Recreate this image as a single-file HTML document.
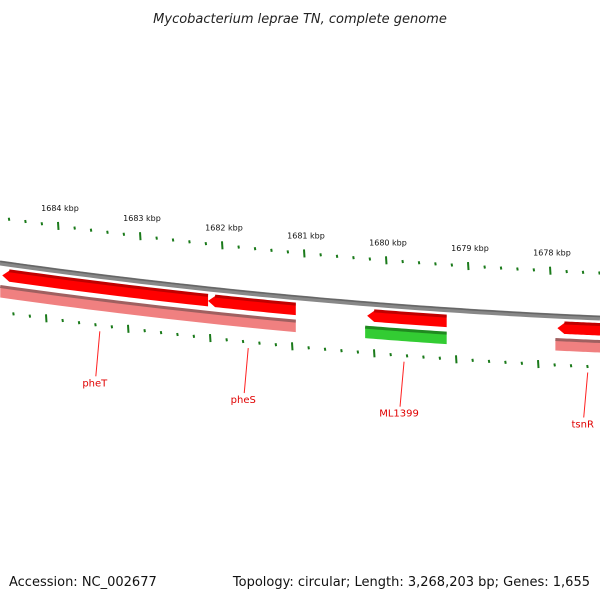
<!DOCTYPE html>
<html><head><meta charset="utf-8"><style>
body{margin:0;background:#fff;width:600px;height:600px;overflow:hidden;font-family:"Liberation Sans","DejaVu Sans",sans-serif}
svg text{font-family:"DejaVu Sans","Liberation Sans",sans-serif}
</style></head><body>
<svg id="map" width="600" height="600" xmlns="http://www.w3.org/2000/svg">
<text x="300" y="23" text-anchor="middle" font-size="13" font-style="italic" fill="#222">Mycobacterium leprae TN, complete genome</text>
<text x="9" y="586" font-size="13" fill="#111">Accession: NC_002677</text>
<text x="590" y="586" font-size="13" fill="#111" text-anchor="end">Topology: circular; Length: 3,268,203 bp; Genes: 1,655</text>
<g id="g"></g>
</svg>
<script>
const tickLabels=[1684,1683,1682,1681,1680,1679,1678];
const geneNames=["pheT","pheS","ML1399","tsnR"];
const geneStarts=[1684.68,1682.17,1680.23,1677.91];
const geneEnds=[1682.17,1681.10,1679.26,1677.20];
const labelKbp=[1683.49,1681.68,1679.78,1677.54];
const NS="http://www.w3.org/2000/svg";
const g=document.getElementById('g');
function kx(k){return 58+(1684-k)*82;}
function by(x){return 263+0.1417*x-8.33e-5*x*x;}
function mk(t,a){const e=document.createElementNS(NS,t);for(const k in a)e.setAttribute(k,a[k]);g.appendChild(e);return e;}
function band(x1,x2,off,th,fill,edge,arrow){
  const pts=[],pb=[];
  const s=x1+(arrow?7:0);
  for(let i=0;i<=20;i++){const x=s+(x2-s)*i/20;pts.push([x,by(x)+off-th/2]);pb.unshift([x,by(x)+off+th/2]);}
  let all=pts.concat(pb);
  if(arrow){const y=by(x1)+off;all.push([x1,y]);}
  const p=mk('polygon',{points:all.map(p=>p.join(',')).join(' '),fill:fill});
  const d="M"+pts.map(p=>p.join(',')).join(' L');
  mk('path',{d:d,stroke:edge,'stroke-width':3,fill:'none'});
  return p;
}
let d="M0,"+by(0);for(let x=10;x<=600;x+=10)d+=" L"+x+","+by(x);
let bb=mk('path',{d:d,stroke:'#888',"stroke-width":5,fill:'none'});


mk('path',{d:d,stroke:'#666',"stroke-width":1.5,fill:'none',transform:'translate(0,-1.5)'});
for(let i=0;i<tickLabels.length+1;i++){
  for(let j=0;j<5;j++){
    const k=tickLabels[0]+1-i-j*0.2;
    const x=kx(k);if(x<0||x>600)continue;
    const major=(j===0);
    const y=by(x)-45,h=major?8:3;
    const t=mk('line',{x1:x,y1:y-h/2,x2:x+0.5,y2:y+h/2,stroke:'#1a7a1a','stroke-width':2});
    
    
    const x2=x-12;const y2=by(x2)+49;
    const t2=mk('line',{x1:x2,y1:y2-h/2,x2:x2+0.5,y2:y2+h/2,stroke:'#1a7a1a','stroke-width':2});
    
    
  }
}
tickLabels.forEach(k=>{
  const x=kx(k);
  const t=mk('text',{x:x+2,y:by(x)-60,'font-size':8,'text-anchor':'middle',fill:'#111'});
  t.textContent=k+" kbp";
  
  
});
geneNames.forEach((n,i)=>{
  const x1=Math.max(kx(geneStarts[i]),-2),x2=Math.min(kx(geneEnds[i]),602);
  const p=band(x1,x2,12,11,'#ff0000','#c00000',true);
  
  
});
[[0,0],[2,1],[3,0]].forEach(([i,green])=>{
  let x1=Math.max(kx(geneStarts[i]),-2),x2=Math.min(kx(geneEnds[i]),602);
  if(i===0)x2=kx(geneEnds[1]);
  const p=band(x1-2,x2,29,11,green?'#33cc33':'#f08080',green?'#208a20':'#a06060',false);
  
  
});
geneNames.forEach((n,i)=>{
  const x=kx(labelKbp[i]);const y=by(x)+55;
  const l=mk('line',{x1:x,y1:y,x2:x-4,y2:y+45,stroke:'#ff2020','stroke-width':1});
  
  
  const t=mk('text',{x:x-5,y:y+55,'font-size':10,'text-anchor':'middle',fill:'#e00000'});
  t.textContent=n;
  
  
});
</script>
</body></html>
